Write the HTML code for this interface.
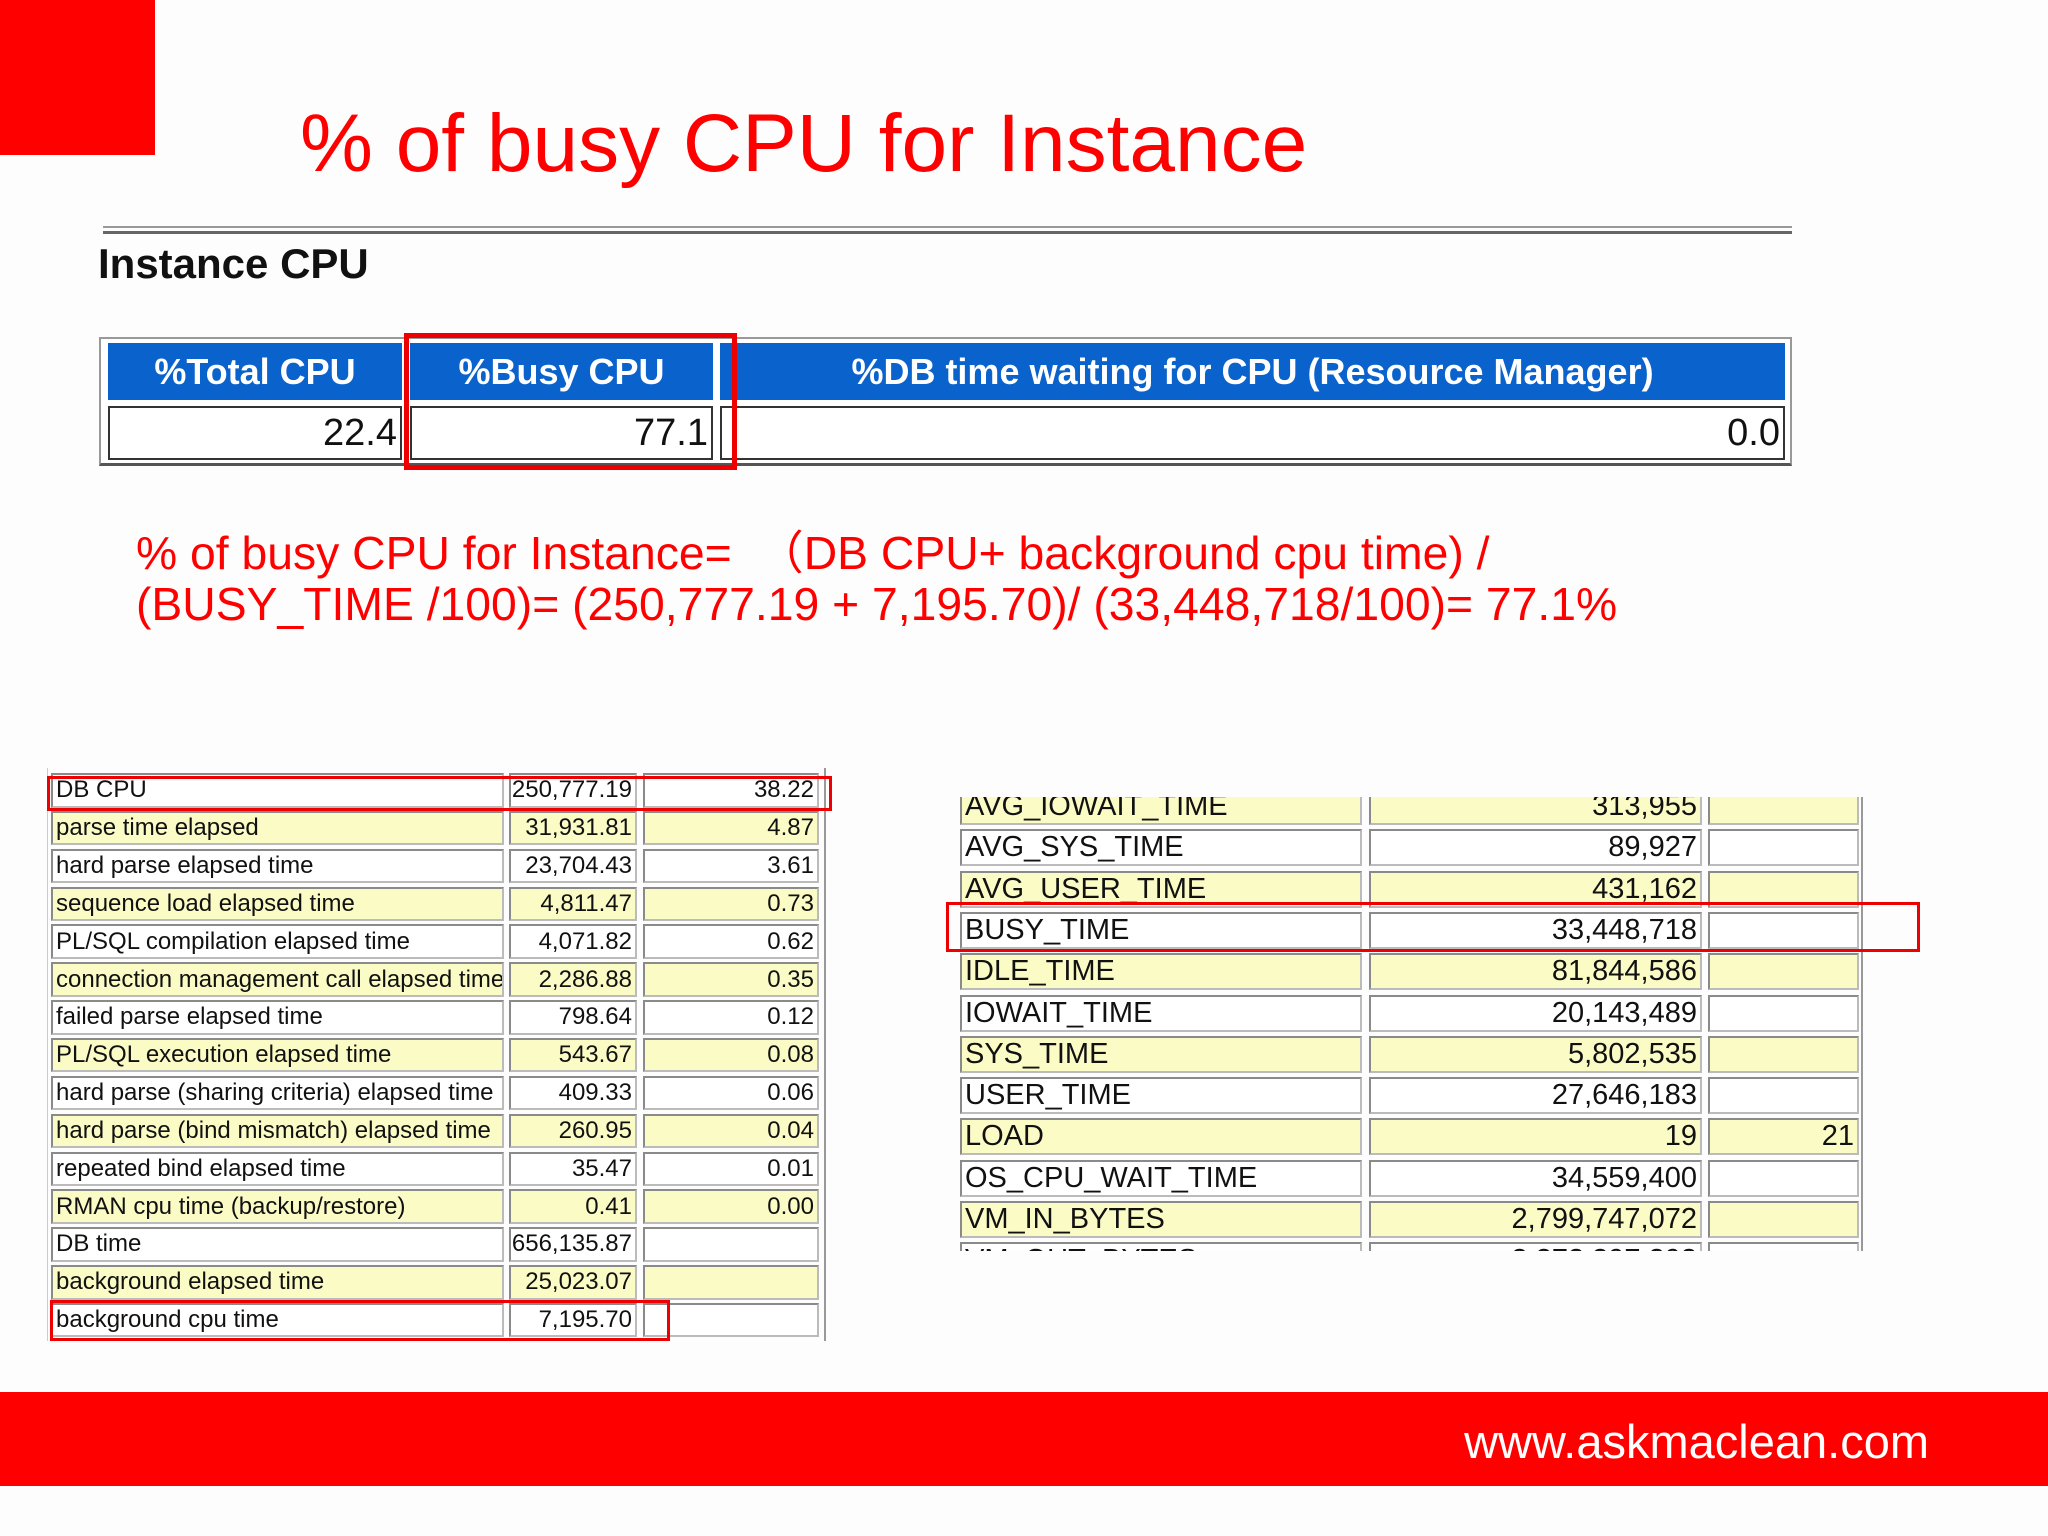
<!DOCTYPE html>
<html><head><meta charset="utf-8">
<style>
body{margin:0;width:2048px;height:1536px;background:#fdfdfd;position:relative;overflow:hidden;font-family:"Liberation Sans",Arial,sans-serif}
.abs{position:absolute}
.c{position:absolute;box-sizing:border-box;border:2px solid #8a8a8a;border-right-color:#bbb;border-bottom-color:#bbb;white-space:nowrap;overflow:hidden;color:#111;display:flex;align-items:center}
.r{justify-content:flex-end;padding-right:3px}
.l{padding-left:3px}
.y{background:#fbfbc6}
.w{background:#fff}
</style></head><body>
<div class="abs" style="left:0;top:0;width:155px;height:155px;background:#f00"></div>
<div class="abs" style="left:300px;top:103px;font-size:82px;color:#f00;line-height:1;white-space:nowrap">% of busy CPU for Instance</div>
<div class="abs" style="left:103px;top:226px;width:1689px;height:3px;border-bottom:3px solid #666;border-top:2px solid #999"></div>
<div class="abs" style="left:98px;top:240px;font-size:42px;font-weight:bold;color:#111">Instance CPU</div>

<div class="abs" style="left:99px;top:337px;width:1693px;height:129px;box-sizing:border-box;border:2px solid #999;border-bottom:3px solid #555;background:#fff"></div>
<div class="abs" style="left:108px;top:343px;width:294px;height:57px;background:#0a62cc;color:#fff;font-weight:bold;font-size:36px;display:flex;align-items:center;justify-content:center">%Total CPU</div>
<div class="abs" style="left:410px;top:343px;width:303px;height:57px;background:#0a62cc;color:#fff;font-weight:bold;font-size:36px;display:flex;align-items:center;justify-content:center">%Busy CPU</div>
<div class="abs" style="left:720px;top:343px;width:1065px;height:57px;background:#0a62cc;color:#fff;font-weight:bold;font-size:36px;display:flex;align-items:center;justify-content:center">%DB time waiting for CPU (Resource Manager)</div>
<div class="c r w" style="left:108px;top:406px;width:294px;height:54px;font-size:38px;border-color:#333">22.4</div>
<div class="c r w" style="left:410px;top:406px;width:303px;height:54px;font-size:38px;border-color:#333">77.1</div>
<div class="c r w" style="left:720px;top:406px;width:1065px;height:54px;font-size:38px;border-color:#333">0.0</div>
<div class="abs" style="left:404px;top:333px;width:333px;height:137px;box-sizing:border-box;border:5px solid #e00"></div>

<div class="abs" style="left:136px;top:528px;font-size:46.3px;color:#f00;line-height:51px;white-space:nowrap;font-family:'Liberation Sans','Noto Sans CJK SC',sans-serif">% of busy CPU for Instance=&nbsp; （DB CPU+ background cpu time) /<br>(BUSY_TIME /100)= (250,777.19 + 7,195.70)/ (33,448,718/100)= 77.1%</div>

<div id="lt" class="abs" style="left:0;top:0"></div>
<div id="rt" class="abs" style="left:950px;top:797px;width:915px;height:454px;overflow:hidden"></div>

<div class="abs" style="left:47px;top:776px;width:785px;height:35px;box-sizing:border-box;border:3px solid #e00"></div>
<div class="abs" style="left:50px;top:1300px;width:620px;height:41px;box-sizing:border-box;border:3px solid #e00"></div>
<div class="abs" style="left:946px;top:902px;width:974px;height:50px;box-sizing:border-box;border:3px solid #e00"></div>

<div class="abs" style="left:0;top:1392px;width:2048px;height:94px;background:#f00"></div>
<div class="abs" style="right:119px;top:1414px;font-size:47px;color:#fff">www.askmaclean.com</div>

<script>
const ltNames=["DB CPU","parse time elapsed","hard parse elapsed time","sequence load elapsed time","PL/SQL compilation elapsed time","connection management call elapsed time","failed parse elapsed time","PL/SQL execution elapsed time","hard parse (sharing criteria) elapsed time","hard parse (bind mismatch) elapsed time","repeated bind elapsed time","RMAN cpu time (backup/restore)","DB time","background elapsed time","background cpu time"];
const ltVals=["250,777.19","31,931.81","23,704.43","4,811.47","4,071.82","2,286.88","798.64","543.67","409.33","260.95","35.47","0.41","656,135.87","25,023.07","7,195.70"];
const ltPct=["38.22","4.87","3.61","0.73","0.62","0.35","0.12","0.08","0.06","0.04","0.01","0.00","","",""];
const rtNames=["AVG_IOWAIT_TIME","AVG_SYS_TIME","AVG_USER_TIME","BUSY_TIME","IDLE_TIME","IOWAIT_TIME","SYS_TIME","USER_TIME","LOAD","OS_CPU_WAIT_TIME","VM_IN_BYTES","VM_OUT_BYTES"];
const rtVals=["313,955","89,927","431,162","33,448,718","81,844,586","20,143,489","5,802,535","27,646,183","19","34,559,400","2,799,747,072","3,372,397,393"];
const rtExtra=["","","","","","","","","21","","",""];

function cell(parent,cls,x,y,w,h,txt,fs){
  const d=document.createElement('div');
  d.className='c '+cls;
  d.style.cssText=`left:${x}px;top:${y}px;width:${w}px;height:${h}px;font-size:${fs}px`;
  d.textContent=txt;
  
  
  parent.appendChild(d);
}
const lt=document.getElementById('lt');
const lborder=document.createElement('div');
lborder.className='abs';
lborder.style.cssText='left:47px;top:768px;width:776px;height:573px;border-right:2px solid #999;border-left:1px solid #ccc';


lt.appendChild(lborder);
ltNames.forEach((n,i)=>{
  const y=773+i*37.85, bg=(i%2)?'y':'w';
  cell(lt,'l '+bg,51,y,453,34.5,n,24);
  cell(lt,'r '+bg,509,y,128,34.5,ltVals[i],24);
  cell(lt,'r '+bg,643,y,176,34.5,ltPct[i],24);
});
const rt=document.getElementById('rt');
rtNames.forEach((n,i)=>{
  const y=-9+i*41.3, bg=(i%2)?'w':'y';
  cell(rt,'l '+bg,10,y,402,37,n,29);
  cell(rt,'r '+bg,419,y,333,37,rtVals[i],29);
  cell(rt,'r '+bg,758,y,151,37,rtExtra[i],29);
});
const rb=document.createElement('div');
rb.className='abs';
rb.style.cssText='left:911px;top:0;width:2px;height:454px;background:#999';


rt.appendChild(rb);
</script>
</body></html>
